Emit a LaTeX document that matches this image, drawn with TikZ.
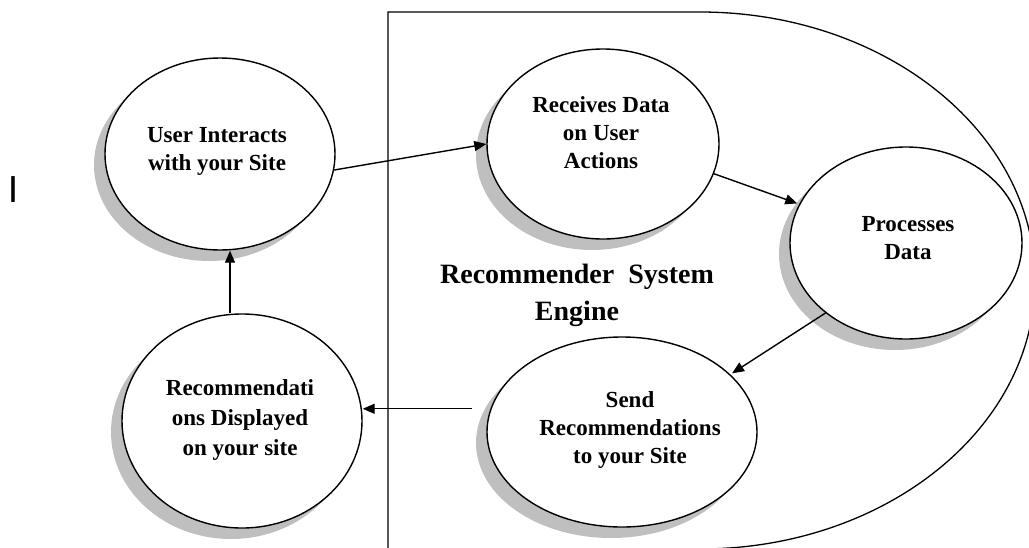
\documentclass[tikz,border=0pt]{standalone}
\usepackage{fontspec}
\setmainfont{Liberation Serif}
\newfontfamily\sansI{Liberation Sans}
\usetikzlibrary{shapes.geometric,arrows.meta,shadows}
\begin{document}
\begin{tikzpicture}[x=1pt,y=-1pt,
  ell/.style={ellipse, draw=black, line width=1.4pt, fill=white, inner sep=0pt,
    drop shadow={shadow xshift=-11pt, shadow yshift=-11pt, fill=black!25, opacity=1}},
  lbl/.style={font=\bfseries\fontsize{23}{28}\selectfont, align=center, inner sep=0pt},
  arw/.style={-{Triangle[length=12pt,width=10pt]}, line width=1.4pt}]
\useasboundingbox (0,0) rectangle (1029,547);
% container
\draw[line width=1.3pt] (388,549) -- (388,12) -- (700,12)
  arc[start angle=-90, end angle=90, x radius=335, y radius=268.5] -- cycle;
% ellipses
\node[ell, minimum width=230pt, minimum height=192pt] (u)  at (220,154) {};
\node[ell, minimum width=232pt, minimum height=190pt] (r)  at (603,144) {};
\node[ell, minimum width=232pt, minimum height=192pt] (p)  at (906,243) {};
\node[ell, minimum width=270pt, minimum height=190pt] (s)  at (622,432) {};
\node[ell, minimum width=240pt, minimum height=214pt] (rc) at (242,421) {};
% labels
\node[lbl] (ut)  at (217,151) {User Interacts\\with your Site};
\node[lbl] (rt)  at (601,133) {Receives Data\\on User\\Actions};
\node[lbl] (pt)  at (908,238) {Processes\\Data};
\node[lbl] (st)  at (630,430) {Send\\Recommendations\\to your Site};
\node[lbl, font=\bfseries\fontsize{23}{30}\selectfont] (rct) at (240,420) {Recommendati\\ons Displayed\\on your site};
\node[font=\bfseries\fontsize{28}{37}\selectfont, align=center, inner sep=0pt] (eng) at (577,295) {Recommender\ \ System\\Engine};
\node[font=\sansI\fontsize{37.7}{40}\selectfont, inner sep=0pt, anchor=south] (cur) at (13,203) {I};
% connectors
\draw[arw] (u.-8) -- (r.west);
\draw[arw, shorten >=2pt] (r.-15) -- (p.160);
\draw[arw, shorten >=2pt] (p.-139) -- (s.28);
\draw[arw] ([xshift=-18pt]s.170) -- (rc.east |- s.170);
\draw[arw] ([xshift=-12pt]rc.north) -- ([xshift=10pt]u.south);
\end{tikzpicture}
\end{document}
